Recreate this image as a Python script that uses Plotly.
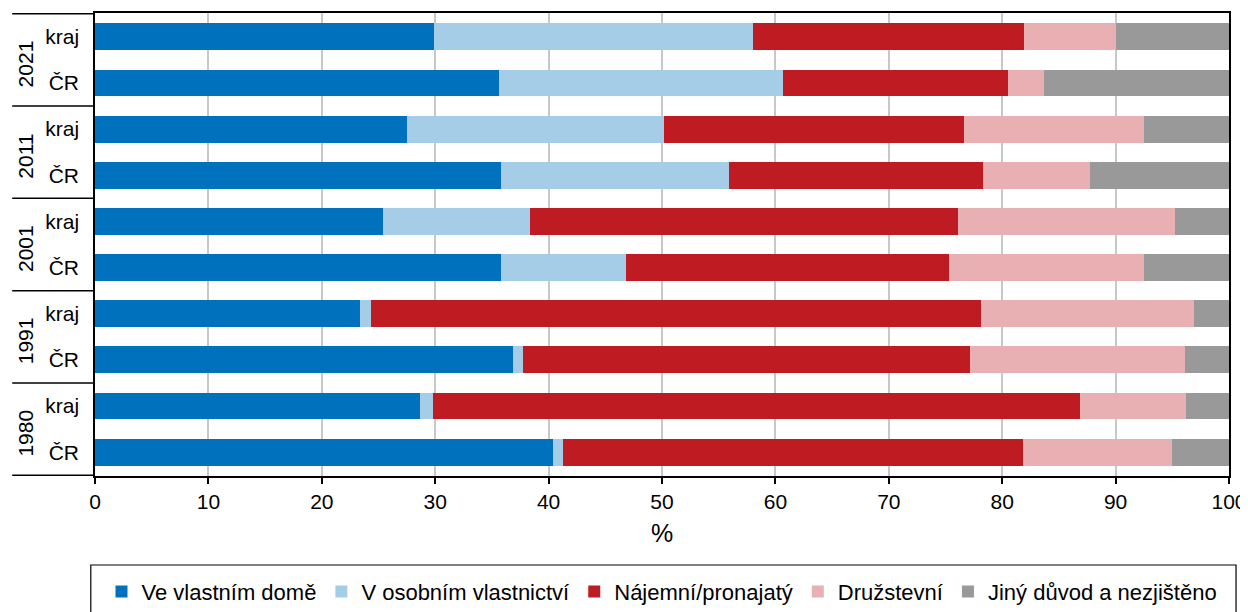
import plotly.graph_objects as go

years = ["2021", "2011", "2001", "1991", "1980"]
areas = ["kraj", "ČR"]

series_names = ["Ve vlastním domě", "V osobním vlastnictví", "Nájemní/pronajatý",
                "Družstevní", "Jiný důvod a nezjištěno"]
series_colors = ["#0071bc", "#a6cde8", "#be1b23", "#e8b0b3", "#999999"]

vlastni_dum = [29.9, 35.6, 27.5, 35.8, 25.4, 35.8, 23.4, 36.9, 28.7, 40.4]
osobni_vlastnictvi = [28.1, 25.1, 22.7, 20.1, 13.0, 11.0, 0.9, 0.8, 1.1, 0.9]
najemni = [23.9, 19.8, 26.4, 22.4, 37.7, 28.5, 53.8, 39.5, 57.1, 40.5]
druzstevni = [8.1, 3.2, 15.9, 9.4, 19.1, 17.2, 18.8, 18.9, 9.3, 13.2]
jiny = [10.0, 16.3, 7.5, 12.3, 4.8, 7.5, 3.1, 3.9, 3.8, 5.0]

x_ticks = [0, 10, 20, 30, 40, 50, 60, 70, 80, 90, 100]

cats = [f"{y} {a}" for y in years for a in areas]
labels = [a for y in years for a in areas]

FONT = "Liberation Sans, Arial, sans-serif"
fig = go.Figure()
for name, color, vals in zip(series_names, series_colors,
                             [vlastni_dum, osobni_vlastnictvi, najemni, druzstevni, jiny]):
    fig.add_trace(go.Bar(y=cats, x=vals, name=name, orientation="h",
                         marker=dict(color=color, line=dict(width=0))))

shapes = []
# group dividers on the left
for i in range(len(years) + 1):
    yb = i * 2 - 0.5
    shapes.append(dict(type="line", xref="paper", yref="y", x0=-0.073, x1=0,
                       y0=yb, y1=yb, line=dict(color="black", width=1.5)))
# legend frame
shapes.append(dict(type="rect", xref="paper", yref="paper", x0=-0.0037, x1=1.0062,
                   y0=-0.45, y1=-0.1922, line=dict(color="black", width=1.2),
                   fillcolor="rgba(0,0,0,0)"))

annotations = []
for i, y in enumerate(years):
    annotations.append(dict(text=y, xref="paper", yref="y", x=-0.0613, y=i * 2 + 0.5,
                            textangle=-90, showarrow=False, xanchor="center", yanchor="middle",
                            yshift=-4, font=dict(size=21, color="black", family=FONT)))

fig.update_layout(
    width=1240, height=604,
    margin=dict(l=86.5, r=19, t=5, b=136, autoexpand=False),
    barmode="stack", bargap=0.42,
    plot_bgcolor="white", paper_bgcolor="white",
    font=dict(family=FONT, size=21, color="black"),
    showlegend=True,
    legend=dict(orientation="h", x=0.5, xanchor="center", y=-0.25, yanchor="middle",
                font=dict(size=22, color="black", family=FONT), traceorder="normal",
                bgcolor="rgba(0,0,0,0)", borderwidth=0),
    shapes=shapes, annotations=annotations,
    xaxis=dict(range=[0, 100], tickvals=x_ticks, showgrid=True, gridcolor="#c8c8c8",
               gridwidth=1.5, showline=True, linecolor="black", linewidth=1.5, mirror=True,
               ticks="outside", ticklen=6, tickcolor="black", tickwidth=1.5,
               zeroline=False, title=dict(text="%", standoff=13), automargin=False,
               tickfont=dict(size=21)),
    yaxis=dict(type="category", categoryorder="array", categoryarray=cats,
               autorange="reversed", tickvals=cats, ticktext=labels, automargin=False,
               showline=True, linecolor="black", linewidth=1.5, mirror=True,
               showgrid=False, ticks="", ticklabelstandoff=10, tickfont=dict(size=21)),
)

fig.write_html("out.html")
